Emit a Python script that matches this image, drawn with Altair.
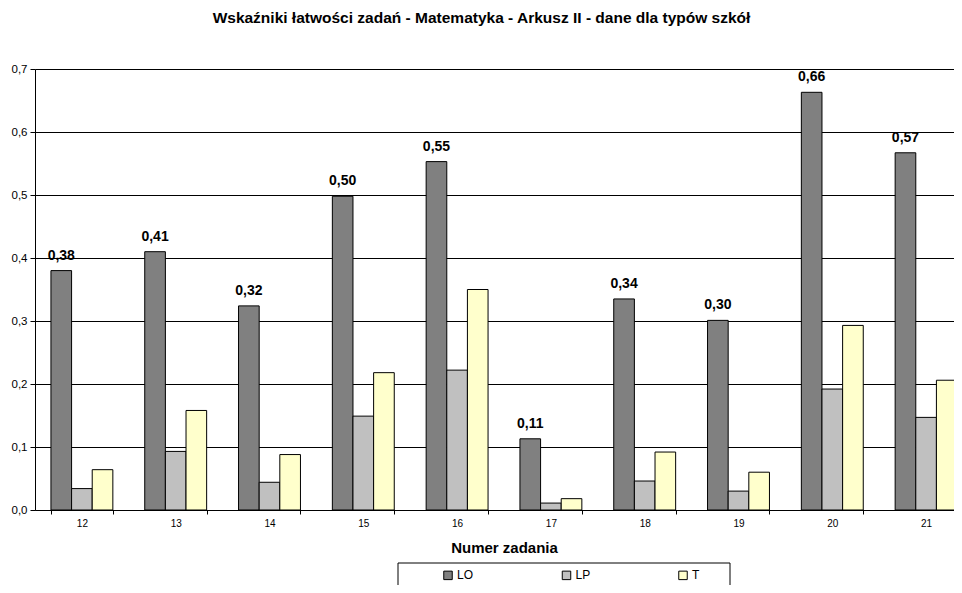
import altair as alt
import pandas as pd

zadania = ["12", "13", "14", "15", "16", "17", "18", "19", "20", "21"]
series = ["LO", "LP", "T"]
lo = [0.38, 0.41, 0.324, 0.498, 0.553, 0.113, 0.335, 0.301, 0.663, 0.567]
lp = [0.034, 0.093, 0.044, 0.149, 0.222, 0.011, 0.046, 0.030, 0.192, 0.147]
t = [0.064, 0.158, 0.088, 0.218, 0.350, 0.018, 0.092, 0.060, 0.293, 0.206]
colors = ["#808080", "#C0C0C0", "#FFFFCC"]
title = "Wskaźniki łatwości zadań - Matematyka - Arkusz II - dane dla typów szkół"

rows = []
for name, vals in zip(series, [lo, lp, t]):
    for z, v in zip(zadania, vals):
        rows.append({"Zadanie": z, "Typ": name, "value": v})
df = pd.DataFrame(rows)

FONT = "Liberation Sans"

x = alt.X("Zadanie:N", sort=zadania,
          scale=alt.Scale(paddingInner=0.34, paddingOuter=0.17, range=[0, 938]),
          axis=alt.Axis(title="Numer zadania", labelAngle=0, tickBand="extent",
                        tickSize=4, tickColor="black", domainColor="black",
                        labelFontSize=10, labelColor="black", labelPadding=4,
                        titleFontSize=15, titleFontWeight="bold", titlePadding=12,
                        titleColor="black", labelFont=FONT, titleFont=FONT))
xo = alt.XOffset("Typ:N", sort=series, scale=alt.Scale(domain=series))
y = alt.Y("value:Q", scale=alt.Scale(domain=[0, 0.7]),
          axis=alt.Axis(title=None, values=[0, 0.1, 0.2, 0.3, 0.4, 0.5, 0.6, 0.7],
                        labelExpr="replace(format(datum.value, '.1f'), '.', ',')",
                        grid=True, gridColor="black", gridWidth=1, tickSize=5,
                        tickColor="black", domainColor="black", labelFontSize=11.5,
                        labelColor="black", labelPadding=3, labelFont=FONT))

bars = alt.Chart(df).mark_bar(stroke="black", strokeWidth=1).encode(
    x=x, xOffset=xo, y=y,
    color=alt.Color("Typ:N", sort=series,
                    scale=alt.Scale(domain=series, range=colors),
                    legend=alt.Legend(title=None, orient="none", legendX=407, legendY=500,
                                      direction="horizontal", columnPadding=85.5,
                                      symbolType="square", symbolSize=72,
                                      symbolStrokeColor="black", symbolStrokeWidth=1,
                                      symbolOpacity=1, labelFontSize=12, labelFont=FONT,
                                      labelColor="black", labelOffset=3, padding=0)),
)

labels = alt.Chart(df).transform_filter(alt.datum.Typ == "LO").transform_calculate(
    lab="replace(format(datum.value, '.2f'), '.', ',')"
).mark_text(fontWeight="bold", fontSize=14, font=FONT, baseline="alphabetic",
            dy=-11, color="black").encode(
    x=x, xOffset=xo, y=y, text="lab:N"
)

box = alt.Chart(alt.Data(values=[{}])).mark_rect(
    fill="white", stroke="black", strokeWidth=1
).encode(x=alt.value(363), x2=alt.value(695), y=alt.value(494), y2=alt.value(560))

chart = alt.layer(box, bars, labels).properties(
    width=919, height=441,
    autosize=alt.AutoSizeParams(type="none"),
    padding={"left": 27, "top": 61, "right": 0, "bottom": 75},
    title=alt.TitleParams(title, fontSize=15.5, font=FONT, fontWeight="bold",
                          anchor="middle", dx=-13, offset=37, color="black"),
).configure_view(stroke=None).configure(background="white")

chart.save("out.html", embed_options={"renderer": "svg", "actions": False})
